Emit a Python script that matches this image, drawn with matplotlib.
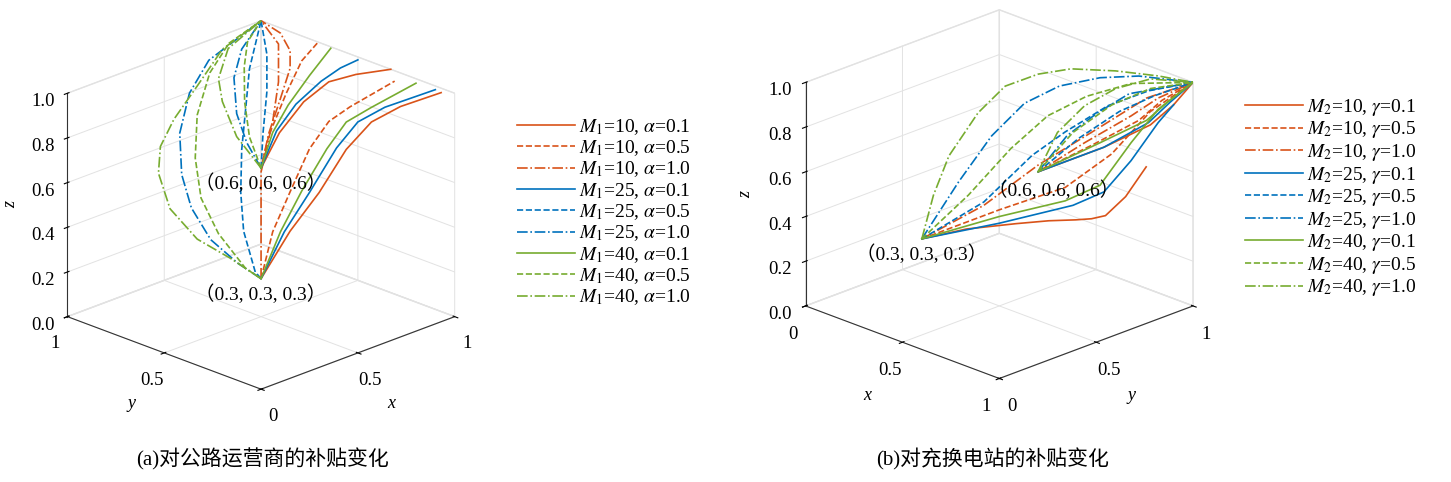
import numpy as np
import matplotlib.pyplot as plt

plt.rcParams['font.family'] = ['Liberation Serif', 'Noto Sans CJK SC']
plt.rcParams['mathtext.fontset'] = 'stix'
plt.rcParams['grid.color'] = '#e2e2e2'
plt.rcParams['grid.linewidth'] = 0.7

# colours of the three M groups
red = '#D95319'
blue = '#0072BD'
green = '#77AC30'

# ---- panel (a): trajectories from (0.3,0.3,0.3) ----  (x, y, z)
a1_10_01 = ([0.3, 0.41, 0.52, 0.61, 0.71, 0.83, 1.0],
            [0.3, 0.26, 0.22, 0.17, 0.14, 0.11, 0.07],
            [0.3, 0.49, 0.64, 0.82, 0.92, 0.96, 0.98])
a1_10_05 = ([0.3, 0.36, 0.45, 0.55, 0.65, 0.76, 0.99],
            [0.3, 0.3, 0.3, 0.3, 0.3, 0.3, 0.3],
            [0.3, 0.49, 0.64, 0.80, 0.89, 0.92, 0.96])
a1_10_10 = ([0.3, 0.33, 0.38, 0.45, 0.55, 0.7, 0.9, 1.0],
            [0.3, 0.33, 0.38, 0.45, 0.49, 0.61, 0.81, 1.0],
            [0.3, 0.45, 0.59, 0.68, 0.86, 0.95, 0.99, 1.0])
a1_25_01 = ([0.3, 0.39, 0.48, 0.58, 0.66, 0.77, 0.99],
            [0.3, 0.27, 0.23, 0.19, 0.16, 0.13, 0.09],
            [0.3, 0.49, 0.65, 0.83, 0.93, 0.97, 0.99])
a1_25_05 = ([0.3, 0.3, 0.32, 0.35, 0.4, 0.5, 0.7, 1.0],
            [0.3, 0.33, 0.41, 0.455, 0.5, 0.58, 0.76, 1.0],
            [0.3, 0.32, 0.47, 0.62, 0.78, 0.90, 0.96, 1.0])
a1_25_10 = ([0.3, 0.3, 0.3, 0.3, 0.32, 0.4, 0.5, 0.7, 1.0],
            [0.3, 0.42, 0.56, 0.66, 0.73, 0.82, 0.87, 0.97, 1.0],
            [0.3, 0.33, 0.39, 0.50, 0.62, 0.75, 0.88, 0.93, 1.0])
a1_40_01 = ([0.3, 0.38, 0.47, 0.58, 0.66, 0.78, 1.0],
            [0.3, 0.28, 0.26, 0.24, 0.22, 0.21, 0.2],
            [0.3, 0.49, 0.65, 0.81, 0.91, 0.94, 0.98])
a1_40_05 = ([0.3, 0.3, 0.3, 0.3, 0.33, 0.4, 0.6, 0.8, 1.0],
            [0.3, 0.38, 0.52, 0.61, 0.67, 0.73, 0.865, 0.966, 1.0],
            [0.3, 0.32, 0.43, 0.56, 0.71, 0.86, 0.94, 0.975, 1.0])
a1_40_10 = ([0.3, 0.3, 0.3, 0.3, 0.3, 0.35, 0.45, 0.6, 0.78, 1.0],
            [0.3, 0.46, 0.63, 0.77, 0.83, 0.87, 0.90, 0.93, 0.98, 1.0],
            [0.3, 0.34, 0.37, 0.46, 0.60, 0.69, 0.77, 0.86, 0.95, 1.0])

# ---- panel (a): trajectories from (0.6,0.6,0.6) ----
a2_10_01 = ([0.6, 0.645, 0.72, 0.80, 0.89, 1.0],
            [0.6, 0.55, 0.5, 0.45, 0.4, 0.33],
            [0.6, 0.76, 0.89, 0.97, 0.99, 1.0])
a2_10_05 = ([0.6, 0.66, 0.78, 0.89, 0.99],
            [0.6, 0.62, 0.65, 0.68, 0.70],
            [0.6, 0.72, 0.86, 0.96, 1.0])
a2_10_10 = ([0.6, 0.66, 0.76, 0.87, 0.93, 0.98, 1.0],
            [0.6, 0.62, 0.66, 0.72, 0.78, 0.88, 1.0],
            [0.6, 0.73, 0.84, 0.92, 0.96, 0.99, 1.0])
a2_25_01 = ([0.6, 0.65, 0.73, 0.83, 0.91, 0.98],
            [0.6, 0.57, 0.55, 0.52, 0.5, 0.48],
            [0.6, 0.76, 0.86, 0.94, 0.98, 1.0])
a2_25_05 = ([0.6, 0.63, 0.71, 0.83, 1.0],
            [0.6, 0.62, 0.68, 0.8, 1.0],
            [0.6, 0.74, 0.88, 0.97, 1.0])
a2_25_10 = ([0.6, 0.6, 0.62, 0.66, 0.8, 1.0],
            [0.6, 0.674, 0.746, 0.80, 0.90, 1.0],
            [0.6, 0.69, 0.79, 0.92, 0.97, 1.0])
a2_40_01 = ([0.6, 0.66, 0.75, 0.87, 0.99],
            [0.6, 0.6, 0.61, 0.62, 0.63],
            [0.6, 0.74, 0.83, 0.92, 1.0])
a2_40_05 = ([0.6, 0.6, 0.63, 0.7, 0.85, 1.0],
            [0.6, 0.66, 0.715, 0.787, 0.92, 1.0],
            [0.6, 0.72, 0.85, 0.96, 0.98, 1.0])
a2_40_10 = ([0.6, 0.6, 0.62, 0.66, 0.8, 1.0],
            [0.6, 0.726, 0.82, 0.88, 0.97, 1.0],
            [0.6, 0.70, 0.82, 0.89, 0.95, 1.0])

# ---- panel (b): trajectories from (0.3,0.3,0.3) ----
b1_10_01 = ([0.3, 0.415, 0.543, 0.628, 0.697, 0.738, 0.774, 0.826, 0.879],
            [0.3, 0.415, 0.543, 0.628, 0.697, 0.738, 0.774, 0.826, 0.879],
            [0.3, 0.344, 0.368, 0.381, 0.385, 0.39, 0.404, 0.489, 0.622])
b1_10_05 = ([0.3, 0.5, 0.67, 0.79, 0.89, 1.0],
            [0.3, 0.5, 0.67, 0.79, 0.89, 1.0],
            [0.3, 0.43, 0.53, 0.68, 0.87, 1.0])
b1_10_10 = ([0.3, 0.46, 0.60, 0.76, 0.88, 1.0],
            [0.3, 0.46, 0.60, 0.76, 0.88, 1.0],
            [0.3, 0.45, 0.63, 0.80, 0.93, 1.0])
b1_25_01 = ([0.3, 0.5, 0.69, 0.77, 0.84, 0.91, 0.95],
            [0.3, 0.5, 0.69, 0.77, 0.84, 0.91, 0.95],
            [0.3, 0.37, 0.45, 0.51, 0.65, 0.82, 0.90])
b1_25_05 = ([0.3, 0.36, 0.44, 0.58, 0.71, 0.82, 1.0],
            [0.3, 0.56, 0.73, 0.76, 0.85, 0.95, 1.0],
            [0.3, 0.4, 0.58, 0.72, 0.85, 0.92, 1.0])
b1_25_10 = ([0.3, 0.31, 0.31, 0.37, 0.48, 0.62, 0.77, 1.0],
            [0.3, 0.48, 0.65, 0.76, 0.83, 0.90, 0.95, 1.0],
            [0.3, 0.5, 0.65, 0.78, 0.87, 0.93, 0.97, 1.0])
b1_40_01 = ([0.3, 0.5, 0.67, 0.76, 0.84, 0.91, 1.0],
            [0.3, 0.5, 0.67, 0.76, 0.84, 0.91, 1.0],
            [0.3, 0.40, 0.47, 0.54, 0.73, 0.88, 1.0])
b1_40_05 = ([0.3, 0.35, 0.40, 0.47, 0.59, 0.74, 1.0],
            [0.3, 0.49, 0.66, 0.78, 0.86, 0.94, 1.0],
            [0.3, 0.45, 0.62, 0.75, 0.85, 0.93, 1.0])
b1_40_10 = ([0.3, 0.26, 0.26, 0.27, 0.31, 0.42, 0.53, 0.69, 0.85, 1.0],
            [0.3, 0.40, 0.48, 0.62, 0.72, 0.78, 0.84, 0.91, 0.97, 1.0],
            [0.3, 0.45, 0.6, 0.75, 0.85, 0.92, 0.96, 0.98, 0.99, 1.0])

# ---- panel (b): trajectories from (0.6,0.6,0.6) ----
b2_10_01 = ([0.6, 0.77, 0.89, 0.95, 1.0],
            [0.6, 0.77, 0.89, 0.95, 1.0],
            [0.6, 0.71, 0.81, 0.90, 1.0])
b2_10_05 = ([0.6, 0.74, 0.86, 0.92, 1.0],
            [0.6, 0.74, 0.86, 0.92, 1.0],
            [0.6, 0.72, 0.83, 0.92, 1.0])
b2_10_10 = ([0.6, 0.72, 0.84, 0.91, 1.0],
            [0.6, 0.72, 0.84, 0.91, 1.0],
            [0.6, 0.73, 0.85, 0.93, 1.0])
b2_25_01 = ([0.6, 0.77, 0.885, 0.94, 1.0],
            [0.6, 0.77, 0.885, 0.94, 1.0],
            [0.6, 0.71, 0.82, 0.91, 1.0])
b2_25_05 = ([0.6, 0.705, 0.81, 0.90, 1.0],
            [0.6, 0.705, 0.81, 0.90, 1.0],
            [0.6, 0.75, 0.87, 0.94, 1.0])
b2_25_10 = ([0.6, 0.61, 0.70, 0.79, 1.0],
            [0.6, 0.74, 0.81, 0.88, 1.0],
            [0.6, 0.72, 0.83, 0.92, 1.0])
b2_40_01 = ([0.6, 0.76, 0.88, 0.94, 1.0],
            [0.6, 0.76, 0.88, 0.94, 1.0],
            [0.6, 0.73, 0.83, 0.92, 1.0])
b2_40_05 = ([0.6, 0.65, 0.73, 0.84, 1.0],
            [0.6, 0.73, 0.85, 0.94, 1.0],
            [0.6, 0.75, 0.86, 0.94, 1.0])
b2_40_10 = ([0.6, 0.61, 0.65, 0.72, 0.82, 1.0],
            [0.6, 0.69, 0.79, 0.88, 0.96, 1.0],
            [0.6, 0.75, 0.85, 0.92, 0.97, 1.0])

m_values = ['10', '25', '40']
rate_values = ['0.1', '0.5', '1.0']
group_colors = [red, blue, green]
styles = ['-', '--', '-.']

curves_a1 = [a1_10_01, a1_10_05, a1_10_10, a1_25_01, a1_25_05, a1_25_10,
             a1_40_01, a1_40_05, a1_40_10]
curves_a2 = [a2_10_01, a2_10_05, a2_10_10, a2_25_01, a2_25_05, a2_25_10,
             a2_40_01, a2_40_05, a2_40_10]
curves_b1 = [b1_10_01, b1_10_05, b1_10_10, b1_25_01, b1_25_05, b1_25_10,
             b1_40_01, b1_40_05, b1_40_10]
curves_b2 = [b2_10_01, b2_10_05, b2_10_10, b2_25_01, b2_25_05, b2_25_10,
             b2_40_01, b2_40_05, b2_40_10]

fig = plt.figure(figsize=(14.51, 4.82), dpi=100)


def setup_axes(ax, hor_labels, hor_ticklabels, flip, zoom):
    ax.set_proj_type('ortho')
    ax.view_init(elev=22, azim=-135)
    ax.set_box_aspect((1, 1, 0.88), zoom=zoom)
    ax.set_xlim(0, 1)
    if flip:
        ax.set_ylim(1, 0)
    else:
        ax.set_ylim(0, 1)
    ax.set_zlim(0, 1)
    ax.set_xticks([0, 0.5, 1])
    ax.set_xticklabels(hor_ticklabels[0])
    ax.set_yticks([0, 0.5, 1])
    ax.set_yticklabels(hor_ticklabels[1])
    ax.set_zticks([0, 0.2, 0.4, 0.6, 0.8, 1.0])
    ax.set_zticklabels(['0.0', '0.2', '0.4', '0.6', '0.8', '1.0'])
    for axis in [ax.xaxis, ax.yaxis, ax.zaxis]:
        axis.set_pane_color((1, 1, 1, 1))
        axis.pane.set_edgecolor('#e2e2e2')
        axis.line.set_color('#333333')
        axis.line.set_linewidth(0.8)
    ax.tick_params(labelsize=13.5, pad=2)
    ax.set_xlabel(hor_labels[0], fontstyle='italic', fontsize=13, labelpad=6)
    ax.set_ylabel(hor_labels[1], fontstyle='italic', fontsize=13, labelpad=6)
    ax.zaxis.set_rotate_label(False)
    ax.set_zlabel('z', fontstyle='italic', fontsize=13, labelpad=2, rotation=90)


def draw_panel(ax, group1, group2, sub, swap):
    k = 0
    for i in range(3):
        for j in range(3):
            label = r'$M_%s$=%s, $\%s$=%s' % (sub, m_values[i],
                                             'alpha' if sub == '1' else 'gamma',
                                             rate_values[j])
            for c, lab in [(group1[k], label), (group2[k], None)]:
                if swap:
                    px, py = c[1], c[0]
                else:
                    px, py = c[0], c[1]
                ax.plot(px, py, c[2], color=group_colors[i],
                        linestyle=styles[j], linewidth=1.2, label=lab)
            k += 1


leg_kw = dict(frameon=False, fontsize=14, handlelength=3.0, handletextpad=0.2,
              labelspacing=0.08, borderaxespad=0)

# panel (a)
axa = fig.add_axes([-0.014, 0.126, 0.38, 0.874], projection='3d')
setup_axes(axa, ['x', 'y'], [['0', '0.5', '1'], ['', '0.5', '1']], False, 1.051)
draw_panel(axa, curves_a1, curves_a2, '1', False)
axa.text(0.6, 0.6, 0.575, '（0.6, 0.6, 0.6）', ha='center', va='top', fontsize=14)
axa.text(0.3, 0.3, 0.275, '（0.3, 0.3, 0.3）', ha='center', va='top', fontsize=14)
axa.legend(loc='center left', bbox_to_anchor=(0.351, 0.56),
           bbox_transform=fig.transFigure, **leg_kw)

# panel (b): x runs toward the viewer on the left, y to the right
axb = fig.add_axes([0.495, 0.172, 0.38, 0.828], projection='3d')
setup_axes(axb, ['y', 'x'], [['0', '0.5', '1'], ['0', '0.5', '1']], True, 1.11)
draw_panel(axb, curves_b1, curves_b2, '2', True)
axb.text(0.62, 0.66, 0.575, '（0.6, 0.6, 0.6）', ha='center', va='top', fontsize=14)
axb.text(0.3, 0.3, 0.275, '（0.3, 0.3, 0.3）', ha='center', va='top', fontsize=14)
axb.legend(loc='center left', bbox_to_anchor=(0.8525, 0.59),
           bbox_transform=fig.transFigure, **leg_kw)

fig.text(0.181, 0.035, '(a)对公路运营商的补贴变化', ha='center', fontsize=15)
fig.text(0.684, 0.035, '(b)对充换电站的补贴变化', ha='center', fontsize=15)

fig.savefig('out.png', dpi=100)
